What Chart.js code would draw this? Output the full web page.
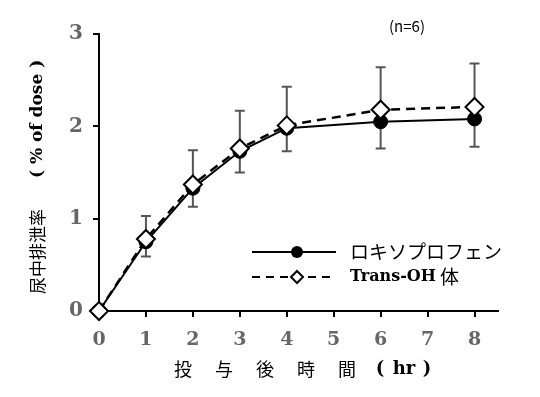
<!DOCTYPE html>
<html>
<head>
<meta charset="utf-8">
<script src="https://cdn.jsdelivr.net/npm/chart.js@4.4.1/dist/chart.umd.min.js"></script>
<style>
  html, body { margin: 0; padding: 0; background: #fff; }
  #wrap { width: 540px; height: 397px; position: relative; }
</style>
</head>
<body>
<div id="wrap"><canvas id="chart"></canvas></div>
<script>
// data
const hours = [0, 1, 2, 3, 4, 6, 8];
const loxoprofen = [0, 0.75, 1.33, 1.73, 1.98, 2.05, 2.08];
const transOH = [0, 0.78, 1.37, 1.76, 2.01, 2.18, 2.21];
const errTop = [0, 1.03, 1.74, 2.17, 2.43, 2.64, 2.68];
const errBottom = [0, 0.59, 1.13, 1.50, 1.73, 1.76, 1.78];
const xTicks = [0, 1, 2, 3, 4, 5, 6, 7, 8];
const yTicks = [0, 1, 2, 3];

const seriesNames = ['ロキソプロフェン', 'Trans-OH', '体'];
const xTitleChars = ['投', '与', '後', '時', '間'];

const SERIF = '"DejaVu Serif", serif';
const JP = '"Noto Sans CJK JP", sans-serif';

const pts = (ys) => hours.map((h, i) => ({ x: h, y: ys[i] }));

// error bars, drawn under the markers
const errorBars = {
  id: 'errorBars',
  beforeDatasetsDraw(chart) {
    const { ctx, scales: { x, y } } = chart;
    ctx.save();
    ctx.strokeStyle = '#555';
    ctx.lineWidth = 2;
    hours.forEach((h, i) => {
      if (errTop[i] === errBottom[i]) return;
      const px = x.getPixelForValue(h);
      const t = y.getPixelForValue(errTop[i]);
      const b = y.getPixelForValue(errBottom[i]);
      ctx.beginPath();
      ctx.moveTo(px, t); ctx.lineTo(px, b);
      ctx.moveTo(px - 5, t); ctx.lineTo(px + 5, t);
      ctx.moveTo(px - 5, b); ctx.lineTo(px + 5, b);
      ctx.stroke();
    });
    ctx.restore();
  }
};

// titles, n label and legend
const annotations = {
  id: 'annotations',
  afterDraw(chart) {
    const ctx = chart.ctx;
    ctx.save();
    ctx.fillStyle = '#000';
    ctx.textBaseline = 'middle';

    // (n=6)
    ctx.font = '15px ' + JP;
    ctx.textAlign = 'center';
    ctx.fillText('(n=6)', 407, 26);

    // x title
    ctx.font = '18px ' + JP;
    xTitleChars.forEach((c, i) => ctx.fillText(c, 183 + i * 41, 369));
    ctx.font = 'bold 18px ' + SERIF;
    ctx.fillText('(', 380, 369);
    ctx.fillText('hr', 404, 369);
    ctx.fillText(')', 427, 369);

    // y title
    ctx.save();
    ctx.translate(38, 0);
    ctx.rotate(-Math.PI / 2);
    ctx.textAlign = 'left';
    ctx.font = '17px ' + JP;
    ctx.fillText('尿中排泄率', -294, 0);
    ctx.font = 'bold 17px ' + SERIF;
    ctx.fillText('( % of dose )', -178, 0);
    ctx.restore();

    // legend
    ctx.lineWidth = 2;
    ctx.strokeStyle = '#000';
    ctx.beginPath();
    ctx.moveTo(252, 252); ctx.lineTo(336, 252);
    ctx.stroke();
    ctx.beginPath();
    ctx.arc(297, 252, 6, 0, Math.PI * 2);
    ctx.fill();

    ctx.setLineDash([8, 6]);
    ctx.beginPath();
    ctx.moveTo(252, 277); ctx.lineTo(336, 277);
    ctx.stroke();
    ctx.setLineDash([]);
    ctx.fillStyle = '#fff';
    ctx.beginPath();
    ctx.moveTo(297, 271); ctx.lineTo(303, 277); ctx.lineTo(297, 283); ctx.lineTo(291, 277);
    ctx.closePath();
    ctx.fill(); ctx.stroke();

    ctx.fillStyle = '#000';
    ctx.textAlign = 'left';
    ctx.font = '19px ' + JP;
    ctx.fillText(seriesNames[0], 350, 252);
    ctx.font = 'bold 16px ' + SERIF;
    ctx.fillText(seriesNames[1], 350, 277);
    const w = ctx.measureText(seriesNames[1]).width;
    ctx.font = '19px ' + JP;
    ctx.fillText(seriesNames[2], 350 + w + 4, 277);
    ctx.restore();
  }
};

new Chart(document.getElementById('chart'), {
  type: 'scatter',
  data: {
    datasets: [
      {
        label: 'ロキソプロフェン',
        data: pts(loxoprofen),
        showLine: true,
        clip: false,
        borderColor: '#000',
        borderWidth: 2,
        pointStyle: 'circle',
        pointRadius: 7,
        pointBorderWidth: 1,
        pointBackgroundColor: '#000',
        pointBorderColor: '#000',
        order: 1
      },
      {
        label: 'Trans-OH体',
        data: pts(transOH),
        showLine: true,
        clip: false,
        borderColor: '#000',
        borderWidth: 2.5,
        borderDash: [9, 6],
        pointStyle: 'rectRot',
        pointRadius: 9,
        pointBorderWidth: 2,
        pointBackgroundColor: '#fff',
        pointBorderColor: '#000',
        order: 0
      }
    ]
  },
  options: {
    responsive: true,
    maintainAspectRatio: false,
    animation: false,
    layout: { padding: { left: 0, right: 42, top: 34, bottom: 0 } },
    plugins: { legend: { display: false }, tooltip: { enabled: false } },
    scales: {
      x: {
        type: 'linear',
        min: 0,
        max: 8.5,
        afterBuildTicks: (s) => { s.ticks = xTicks.map(v => ({ value: v })); },
        afterFit: (s) => { s.height = 86; },
        grid: { display: true, drawOnChartArea: false, drawTicks: true, tickLength: 6, color: '#000', lineWidth: 2 },
        border: { display: true, color: '#000', width: 2 },
        ticks: { padding: 12, color: '#666', font: { family: SERIF, size: 19, weight: 'bold' } }
      },
      y: {
        min: 0,
        max: 3,
        afterBuildTicks: (s) => { s.ticks = yTicks.map(v => ({ value: v })); },
        afterFit: (s) => { s.width = 99; },
        grid: { display: true, drawOnChartArea: false, drawTicks: true, tickLength: 6, color: '#000', lineWidth: 2 },
        border: { display: true, color: '#000', width: 2 },
        ticks: { padding: 10, color: '#666', font: { family: SERIF, size: 20, weight: 'bold' } }
      }
    }
  },
  plugins: [errorBars, annotations]
});
</script>
</body>
</html>
